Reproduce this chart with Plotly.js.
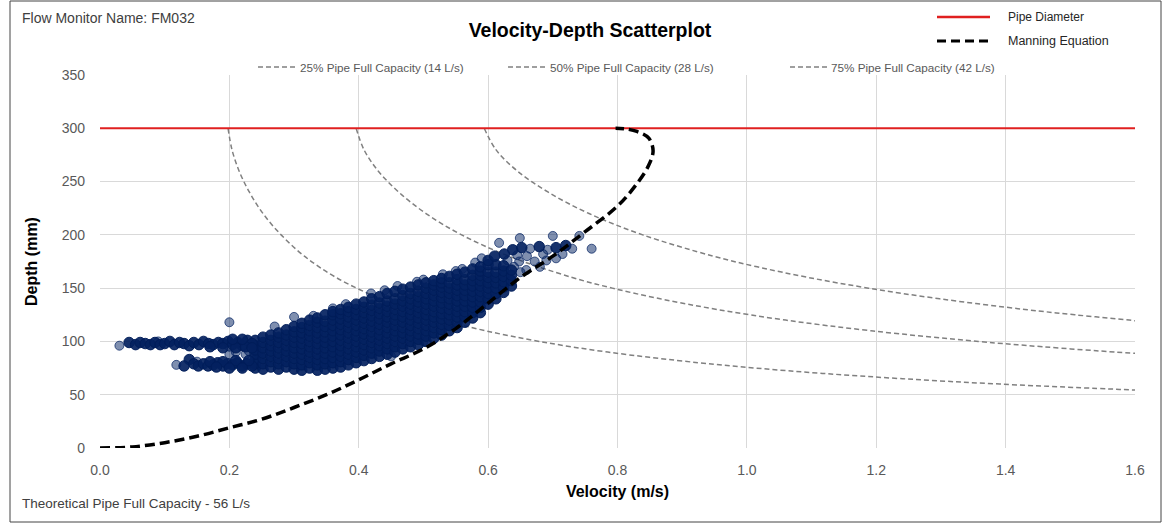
<!DOCTYPE html>
<html><head><meta charset="utf-8">
<script src="https://cdn.plot.ly/plotly-3.0.1.min.js"></script>
<style>html,body{margin:0;padding:0;background:#fff}#chart{width:1163px;height:523px}</style>
</head><body><div id="chart"></div>
<script>
// ---------- DATA ----------
const manningVelocity = [0, 0.05, 0.1, 0.15, 0.2, 0.25, 0.3, 0.35, 0.4, 0.45, 0.5, 0.55, 0.6, 0.65, 0.7, 0.75, 0.8, 0.83, 0.848, 0.855, 0.848, 0.83, 0.812, 0.797];
const manningDepth    = [0, 1, 5, 11, 19, 27, 38, 50, 64, 79, 93, 112, 136, 160, 180, 203, 227, 248, 265, 279, 291, 297, 299.5, 300];

const pipeVelocity = [0, 1.6];
const pipeDepth    = [300, 300];

const cap25Velocity = [0.198, 0.204, 0.215, 0.231, 0.252, 0.280, 0.316, 0.365, 0.433, 0.477, 0.530, 0.596, 0.679, 0.785, 0.925, 1.013, 1.117, 1.241, 1.391, 1.576, 1.6];
const cap25Depth    = [300, 280, 260, 240, 220, 200, 180, 160, 140, 130, 120, 110, 100, 90, 80, 75, 70, 65, 60, 55, 54.4];
const cap50Velocity = [0.396, 0.408, 0.430, 0.462, 0.504, 0.559, 0.632, 0.730, 0.792, 0.866, 0.954, 1.060, 1.192, 1.358, 1.457, 1.570, 1.6];
const cap50Depth    = [300, 280, 260, 240, 220, 200, 180, 160, 150, 140, 130, 120, 110, 100, 95, 90, 88.8];
const cap75Velocity = [0.594, 0.612, 0.645, 0.693, 0.756, 0.839, 0.948, 1.016, 1.095, 1.188, 1.298, 1.430, 1.507, 1.591, 1.6];
const cap75Depth    = [300, 280, 260, 240, 220, 200, 180, 170, 160, 150, 140, 130, 125, 120, 119.3];

// dense part of the velocity-depth cloud, read column by column
const cloudVelocity = [0.24, 0.252, 0.264, 0.276, 0.288, 0.30, 0.312, 0.324, 0.336, 0.348, 0.36, 0.372, 0.384, 0.396, 0.408, 0.42, 0.432, 0.444, 0.456, 0.468, 0.48, 0.492, 0.504, 0.516, 0.528, 0.54, 0.552, 0.564, 0.576, 0.588, 0.60, 0.612, 0.624, 0.636];
const cloudDepths = [
  [75, 79, 83, 88, 92, 96, 101],
  [74, 79, 84, 89, 94, 99, 104],
  [76, 81, 86, 91, 96, 101, 106],
  [74, 79, 84, 89, 94, 99, 104, 108],
  [76, 81, 86, 91, 96, 101, 106, 111],
  [74, 79, 84, 89, 94, 99, 104, 109, 114],
  [73, 78, 83, 88, 93, 98, 103, 108, 113, 117],
  [75, 80, 85, 90, 95, 100, 105, 110, 115, 120],
  [73, 78, 83, 88, 93, 98, 103, 108, 113, 118, 122],
  [74, 79, 84, 89, 94, 99, 104, 109, 114, 119, 125],
  [75, 80, 85, 90, 95, 100, 105, 110, 115, 120, 125, 128],
  [76, 81, 86, 91, 96, 101, 106, 111, 116, 121, 126, 130],
  [78, 83, 88, 93, 98, 103, 108, 113, 118, 123, 128, 132],
  [80, 85, 90, 95, 100, 105, 110, 115, 120, 125, 130, 135],
  [82, 87, 92, 97, 102, 107, 112, 117, 122, 127, 132, 137],
  [84, 89, 94, 99, 104, 109, 114, 119, 124, 129, 134, 140],
  [86, 91, 96, 101, 106, 111, 116, 121, 126, 131, 136, 142],
  [88, 93, 98, 103, 108, 113, 118, 123, 128, 133, 138, 145],
  [90, 95, 100, 105, 110, 115, 120, 125, 130, 135, 140, 147],
  [93, 98, 103, 108, 113, 118, 123, 128, 133, 138, 143, 149],
  [95, 100, 105, 110, 115, 120, 125, 130, 135, 140, 145, 151],
  [97, 102, 107, 112, 117, 122, 127, 132, 137, 142, 147, 153],
  [100, 105, 110, 115, 120, 125, 130, 135, 140, 145, 150, 155],
  [103, 108, 113, 118, 123, 128, 133, 138, 143, 148, 153, 157],
  [106, 111, 116, 121, 126, 131, 136, 141, 146, 151, 155, 159],
  [110, 115, 120, 125, 130, 135, 140, 145, 150, 155, 161],
  [113, 118, 123, 128, 133, 138, 143, 148, 153, 158, 163],
  [118, 123, 128, 133, 138, 143, 148, 153, 158, 165],
  [122, 127, 132, 137, 142, 147, 152, 157, 162, 168],
  [127, 132, 137, 142, 147, 152, 157, 162, 166, 170],
  [135, 140, 145, 150, 155, 160, 165, 172],
  [140, 145, 150, 155, 160, 165, 172],
  [146, 151, 156, 161, 166, 171],
  [152, 157, 162, 167]
];

// heavily overlapped low-velocity bands and the dark row in the upper-right spread
const bandPoints = [
  [0.045, 99], [0.055, 97], [0.062, 99], [0.07, 98], [0.078, 97], [0.085, 99], [0.093, 97], [0.1, 98],
  [0.108, 100], [0.115, 97], [0.123, 99], [0.13, 98], [0.138, 96], [0.145, 99], [0.153, 97], [0.16, 100], [0.168, 98],
  [0.175, 97], [0.183, 99], [0.19, 98], [0.198, 100], [0.205, 97], [0.213, 99], [0.22, 96], [0.228, 101], [0.235, 98],
  [0.17, 95], [0.19, 94], [0.21, 94], [0.225, 95], [0.205, 102], [0.22, 102], [0.235, 94],
  [0.138, 83], [0.13, 77], [0.145, 79], [0.152, 77], [0.16, 79], [0.167, 77], [0.175, 78], [0.182, 80],
  [0.19, 77], [0.197, 79], [0.205, 78], [0.212, 80], [0.22, 77], [0.227, 79], [0.235, 77],
  [0.17, 81], [0.19, 81], [0.21, 82], [0.23, 82], [0.2, 75], [0.22, 75], [0.18, 76],
  [0.638, 186], [0.652, 188], [0.679, 189], [0.705, 188], [0.72, 190], [0.625, 182], [0.6, 176], [0.61, 180]
];

// lighter isolated readings around the cloud
const outlierPoints = [
  [0.03, 96], [0.118, 78], [0.15, 81], [0.21, 90], [0.225, 88], [0.23, 91], [0.245, 88], [0.2, 88], [0.09, 100], [0.2, 95],
  [0.2, 118], [0.27, 114], [0.30, 123], [0.33, 124], [0.36, 131], [0.38, 135], [0.419, 145], [0.44, 148], [0.46, 152],
  [0.49, 156], [0.5, 158], [0.53, 163], [0.55, 166], [0.56, 168], [0.58, 174], [0.45, 86], [0.5, 100], [0.35, 80],
  [0.617, 192.5], [0.649, 197], [0.70, 199], [0.741, 199], [0.76, 187], [0.665, 187],
  [0.692, 186], [0.73, 187], [0.63, 176], [0.648, 175], [0.659, 167],
  [0.672, 175], [0.69, 176], [0.705, 178], [0.715, 182], [0.59, 178],
  [0.645, 181], [0.66, 180], [0.685, 182], [0.64, 170], [0.65, 165], [0.68, 170]
];

const capacityLabels = ['25% Pipe Full Capacity (14 L/s)', '50% Pipe Full Capacity (28 L/s)', '75% Pipe Full Capacity (42 L/s)'];

// ---------- BUILD ----------
const denseV = [], denseD = [];
cloudVelocity.forEach((v, i) => cloudDepths[i].forEach(d => { denseV.push(v); denseD.push(d); }));
bandPoints.forEach(p => { denseV.push(p[0]); denseD.push(p[1]); });
const lightV = outlierPoints.map(p => p[0]);
const lightD = outlierPoints.map(p => p[1]);

const FONT = 'Liberation Sans, Arial, sans-serif';
const W = 1163, H = 523, M = {l: 100, r: 28, t: 75, b: 75};
const PW = W - M.l - M.r, PH = H - M.t - M.b;
const px = x => (x - M.l) / PW;
const py = y => 1 - (y - M.t) / PH;

const capStyle = {color: '#808080', width: 1.5, dash: '5px,3px'};
const traces = [
  {x: cap25Velocity, y: cap25Depth, mode: 'lines', line: Object.assign({shape: 'spline'}, capStyle), name: capacityLabels[0], hoverinfo: 'skip'},
  {x: cap50Velocity, y: cap50Depth, mode: 'lines', line: Object.assign({shape: 'spline'}, capStyle), name: capacityLabels[1], hoverinfo: 'skip'},
  {x: cap75Velocity, y: cap75Depth, mode: 'lines', line: Object.assign({shape: 'spline'}, capStyle), name: capacityLabels[2], hoverinfo: 'skip'},
  {x: pipeVelocity, y: pipeDepth, mode: 'lines', line: {color: '#e02020', width: 2}, name: 'Pipe Diameter'},
  {x: lightV, y: lightD, mode: 'markers', name: 'Flow data',
   marker: {size: 9, color: 'rgba(0,32,96,0.5)', line: {color: 'rgba(0,32,96,0.7)', width: 1}}},
  {x: denseV, y: denseD, mode: 'markers', name: 'Flow data (dense)',
   marker: {size: 10.5, color: 'rgba(3,33,96,0.92)', line: {color: 'rgba(0,28,88,0.95)', width: 1}}},
  {x: manningVelocity, y: manningDepth, mode: 'lines', line: {color: '#000', width: 3.5, dash: '10px,5px', shape: 'spline'}, name: 'Manning Equation'}
];

const shapes = [
  {type: 'rect', xref: 'paper', yref: 'paper', x0: px(10), x1: px(1161), y0: py(1), y1: py(522), line: {color: '#444', width: 1}},
  {type: 'line', xref: 'paper', yref: 'paper', x0: px(937), x1: px(990), y0: py(17), y1: py(17), line: {color: '#e02020', width: 2.5}},
  {type: 'line', xref: 'paper', yref: 'paper', x0: px(937), x1: px(990), y0: py(41), y1: py(41), line: {color: '#000', width: 3, dash: '9px,5px'}},
  {type: 'line', xref: 'paper', yref: 'paper', x0: px(258), x1: px(297), y0: py(67), y1: py(67), line: capStyle},
  {type: 'line', xref: 'paper', yref: 'paper', x0: px(508), x1: px(546), y0: py(67), y1: py(67), line: capStyle},
  {type: 'line', xref: 'paper', yref: 'paper', x0: px(790), x1: px(828), y0: py(67), y1: py(67), line: capStyle}
];

const ann = (text, x, y, size, color, extra) => Object.assign({
  text: text, xref: 'paper', yref: 'paper', x: px(x), y: py(y), xanchor: 'left', yanchor: 'middle',
  showarrow: false, font: {family: FONT, size: size, color: color}
}, extra || {});

const annotations = [
  ann('Flow Monitor Name: FM032', 20, 18, 14, '#404040'),
  ann('Theoretical Pipe Full Capacity - 56 L/s', 20, 503, 13.5, '#404040'),
  ann('Pipe Diameter', 1006, 17, 12, '#262626'),
  ann('Manning Equation', 1006, 41, 12.5, '#262626'),
  ann(capacityLabels[0], 298, 67, 11.7, '#595959'),
  ann(capacityLabels[1], 548, 67, 11.7, '#595959'),
  ann(capacityLabels[2], 829, 67, 11.7, '#595959')
];

const layout = {
  width: W, height: H, margin: M, showlegend: false,
  paper_bgcolor: '#fff', plot_bgcolor: '#fff',
  font: {family: FONT, color: '#595959'},
  title: {text: '<b>Velocity-Depth Scatterplot</b>', x: 590 / W, xanchor: 'center', xref: 'container',
          y: 1 - 30 / H, yanchor: 'middle', yref: 'container', font: {family: FONT, size: 19.5, color: '#000'}},
  xaxis: {range: [0, 1.6], tick0: 0, dtick: 0.2, tickformat: '.1f', showgrid: true, gridcolor: '#d9d9d9', gridwidth: 1,
          zeroline: false, showline: false, ticks: '', ticklabelstandoff: 12,
          tickfont: {family: FONT, size: 14, color: '#595959'},
          title: {text: '<b>Velocity (m/s)</b>', standoff: 8, font: {family: FONT, size: 16, color: '#000'}}},
  yaxis: {range: [0, 350], tick0: 0, dtick: 50, showgrid: true, gridcolor: '#d9d9d9', gridwidth: 1,
          zeroline: false, showline: false, ticks: '', ticklabelstandoff: 14,
          tickfont: {family: FONT, size: 14, color: '#595959'},
          title: {text: '<b>Depth (mm)</b>', standoff: 20, font: {family: FONT, size: 16, color: '#000'}}},
  shapes: shapes,
  annotations: annotations
};

Plotly.newPlot('chart', traces, layout, {displayModeBar: false, staticPlot: true});
</script></body></html>
